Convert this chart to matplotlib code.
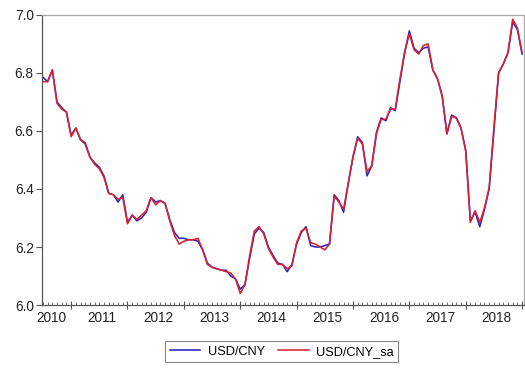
import matplotlib
matplotlib.use("Agg")
from matplotlib import pyplot as plt
from matplotlib.ticker import FixedLocator, NullFormatter

plt.rcParams['font.family'] = ['Liberation Sans', 'DejaVu Sans']

# monthly observations, 2010M07 .. 2019M01
start_year = 2010
start_month = 7

usd_cny = [6.785, 6.77, 6.81, 6.70, 6.68, 6.665, 6.585, 6.61, 6.57, 6.555,
           6.51, 6.49, 6.475, 6.445, 6.385, 6.38, 6.355, 6.38, 6.285, 6.31,
           6.29, 6.30, 6.32, 6.37, 6.355, 6.36, 6.35, 6.295, 6.25, 6.23,
           6.23, 6.225, 6.225, 6.22, 6.19, 6.145, 6.13, 6.125, 6.12, 6.12,
           6.10, 6.09, 6.055, 6.07, 6.16, 6.245, 6.265, 6.25, 6.20, 6.17,
           6.145, 6.14, 6.115, 6.14, 6.21, 6.25, 6.27, 6.205, 6.20, 6.20,
           6.205, 6.21, 6.38, 6.36, 6.32, 6.42, 6.51, 6.58, 6.56, 6.445,
           6.48, 6.595, 6.645, 6.635, 6.68, 6.67, 6.77, 6.87, 6.945, 6.885,
           6.87, 6.885, 6.89, 6.81, 6.78, 6.72, 6.59, 6.655, 6.645, 6.61,
           6.535, 6.29, 6.32, 6.27, 6.33, 6.40, 6.60, 6.80, 6.83, 6.87,
           6.975, 6.95, 6.865]

usd_cny_sa = [6.77, 6.77, 6.81, 6.695, 6.675, 6.665, 6.58, 6.61, 6.57, 6.56,
              6.51, 6.485, 6.47, 6.44, 6.385, 6.38, 6.365, 6.37, 6.28, 6.31,
              6.295, 6.31, 6.325, 6.37, 6.345, 6.36, 6.35, 6.29, 6.24, 6.21,
              6.22, 6.225, 6.225, 6.23, 6.19, 6.14, 6.13, 6.125, 6.12, 6.115,
              6.11, 6.09, 6.04, 6.07, 6.17, 6.255, 6.27, 6.245, 6.195, 6.165,
              6.14, 6.14, 6.125, 6.135, 6.215, 6.255, 6.265, 6.215, 6.21, 6.20,
              6.19, 6.21, 6.375, 6.355, 6.33, 6.42, 6.51, 6.575, 6.555, 6.46,
              6.48, 6.59, 6.64, 6.64, 6.675, 6.675, 6.78, 6.87, 6.935, 6.88,
              6.865, 6.895, 6.90, 6.81, 6.78, 6.72, 6.59, 6.65, 6.645, 6.61,
              6.53, 6.285, 6.325, 6.285, 6.335, 6.405, 6.61, 6.80, 6.83, 6.87,
              6.985, 6.955, 6.87]

years = list(range(2010, 2019))

n = len(usd_cny)
t = list(range(n))

fig = plt.figure(figsize=(5.25, 3.72), dpi=100)
ax = fig.add_axes([0.08, 0.18, 0.918, 0.78])

ax.plot(t, usd_cny, color='#2626c4', lw=1.15, label='USD/CNY')
ax.plot(t, usd_cny_sa, color='#dc2030', lw=1.15, label='USD/CNY_sa')

ax.set_xlim(-0.2, n - 0.6)
ax.set_ylim(6.0, 7.0)
ax.set_yticks([6.0, 6.2, 6.4, 6.6, 6.8, 7.0])
ax.set_yticklabels(['%.1f' % v for v in [6.0, 6.2, 6.4, 6.6, 6.8, 7.0]])

# major ticks at January, minor ticks every month, year label mid-year
first_jan = (12 - start_month + 1) % 12
jan_pos = [p for p in range(first_jan, n + 1, 12)]
ax.xaxis.set_major_locator(FixedLocator(jan_pos))
ax.xaxis.set_major_formatter(NullFormatter())
ax.xaxis.set_minor_locator(FixedLocator([p for p in range(n) if p not in jan_pos]))
label_pos = [1.7] + [jan_pos[k] + 6.6 for k in range(len(years) - 1)]
for x, yr in zip(label_pos, years):
    ax.text(x, -0.022, str(yr), transform=ax.get_xaxis_transform(),
            ha='center', va='top', fontsize=9.8, color='#222222')

ax.tick_params(axis='x', which='major', direction='inout', length=6, width=0.8, color='#555555')
ax.tick_params(axis='x', which='minor', direction='in', length=2.5, width=0.6, color='#555555')
ax.tick_params(axis='y', direction='out', length=4, width=0.8, color='#555555',
               labelsize=9.8, labelcolor='#222222', pad=2)

for side in ['left', 'bottom']:
    ax.spines[side].set_color('#555555')
    ax.spines[side].set_linewidth(0.9)
for side in ['top', 'right']:
    ax.spines[side].set_color('#aaaaaa')
    ax.spines[side].set_linewidth(0.9)

leg = fig.legend(loc='center', bbox_to_anchor=(0.537, 0.054), ncol=2,
                 fontsize=9.2, frameon=True, fancybox=False, handlelength=2.4,
                 columnspacing=1.0, handletextpad=0.6, borderpad=0.35)
leg.get_frame().set_edgecolor('#666666')
leg.get_frame().set_linewidth(0.8)

fig.savefig('out.png', dpi=100)
